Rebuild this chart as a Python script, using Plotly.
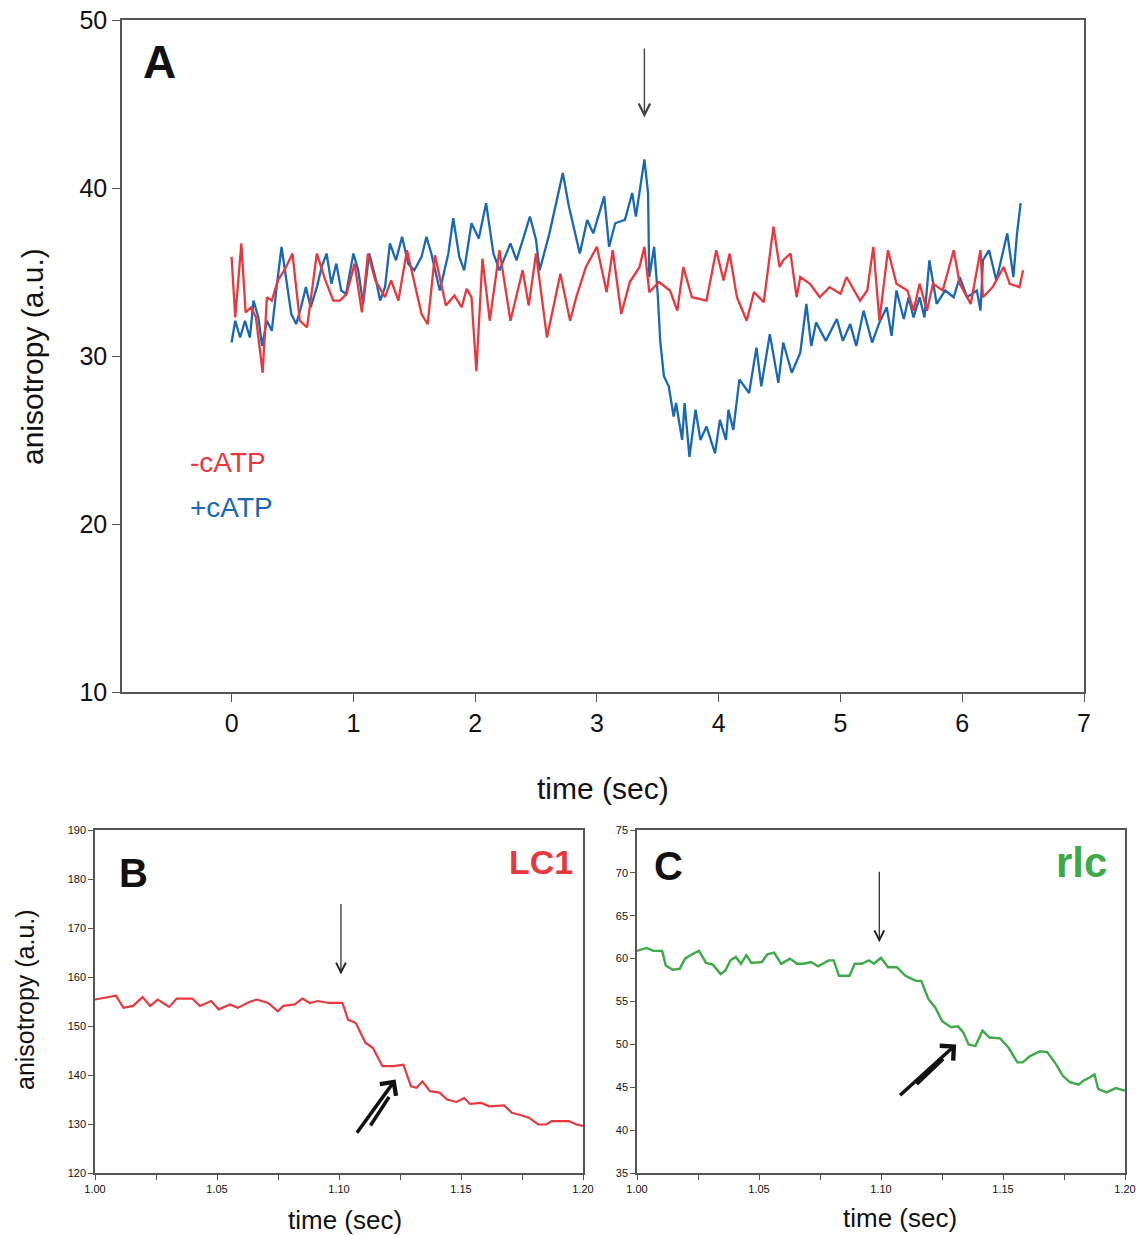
import plotly.graph_objects as go

# ---------------- Panel A data ----------------
t_minus = [0, 0.03, 0.08, 0.115, 0.16, 0.2, 0.255, 0.29, 0.33, 0.38, 0.44, 0.5, 0.56, 0.62, 0.70,
           0.77, 0.835, 0.89, 0.945, 1.01, 1.07, 1.12, 1.18, 1.26, 1.31, 1.37, 1.44, 1.49, 1.56,
           1.61, 1.67, 1.76, 1.83, 1.89, 1.93, 1.97, 2.01, 2.06, 2.12, 2.2, 2.29, 2.39, 2.44,
           2.5, 2.59, 2.7, 2.78, 2.83, 2.91, 3.0, 3.08, 3.13, 3.2, 3.27, 3.35, 3.39, 3.43, 3.51,
           3.6, 3.66, 3.71, 3.78, 3.9, 3.98, 4.04, 4.09, 4.15, 4.23, 4.29, 4.37, 4.45, 4.5, 4.53,
           4.59, 4.64, 4.67, 4.75, 4.83, 4.91, 5.0, 5.05, 5.16, 5.22, 5.27, 5.32, 5.39, 5.46,
           5.55, 5.6, 5.65, 5.71, 5.76, 5.84, 5.93, 5.98, 6.07, 6.15, 6.17, 6.25, 6.34, 6.39,
           6.47, 6.5]
v_minus = [35.9, 32.3, 36.7, 32.6, 32.9, 32.3, 29.0, 33.5, 33.3, 34.5, 35.2, 36.1, 32.1, 31.7, 36.1,
           34.5, 33.3, 33.3, 33.7, 35.5, 32.6, 36.1, 34.5, 33.5, 34.5, 33.3, 36.3, 34.7, 32.5,
           31.9, 36.0, 33.0, 33.6, 32.9, 34.0, 33.5, 29.1, 35.8, 32.1, 36.3, 32.1, 35.1, 33.0,
           36.1, 31.1, 34.9, 32.1, 33.5, 35.3, 36.5, 33.8, 36.3, 32.5, 34.4, 35.3, 36.5, 33.8, 34.4,
           33.9, 32.7, 35.3, 33.5, 33.3, 36.3, 34.5, 36.1, 33.5, 32.1, 33.8, 33.2, 37.7, 35.3, 35.7,
           36.1, 33.5, 34.7, 34.3, 33.5, 34.1, 33.7, 34.7, 33.3, 33.9, 36.5, 32.1, 36.3, 34.3,
           33.9, 32.7, 34.3, 32.7, 34.3, 33.9, 36.3, 34.3, 33.1, 36.3, 33.5, 34.1, 35.3, 34.3,
           34.1, 35.1]

t_plus = [0, 0.03, 0.07, 0.11, 0.15, 0.18, 0.22, 0.25, 0.29, 0.33, 0.37, 0.41, 0.45, 0.49, 0.53,
          0.57, 0.61, 0.65, 0.70, 0.74, 0.78, 0.82, 0.86, 0.9, 0.94, 1.0, 1.04, 1.08, 1.13, 1.18,
          1.22, 1.26, 1.30, 1.35, 1.40, 1.45, 1.5, 1.56, 1.6, 1.64, 1.71, 1.78, 1.82, 1.87, 1.91,
          1.97, 2.03, 2.09, 2.15, 2.2, 2.29, 2.34, 2.45, 2.5, 2.53, 2.61, 2.72, 2.77, 2.86, 2.92,
          2.97, 3.06, 3.1, 3.15, 3.23, 3.29, 3.32, 3.39, 3.42, 3.43, 3.47, 3.5, 3.52, 3.55, 3.59,
          3.63, 3.65, 3.7, 3.72, 3.76, 3.81, 3.85, 3.9, 3.97, 4.01, 4.06, 4.08, 4.12, 4.17, 4.25,
          4.31, 4.35, 4.42, 4.49, 4.53, 4.6, 4.67, 4.72, 4.76, 4.8, 4.88, 4.97, 5.02, 5.08, 5.13,
          5.19, 5.26, 5.32, 5.38, 5.42, 5.46, 5.52, 5.56, 5.6, 5.65, 5.69, 5.73, 5.79, 5.86, 5.93,
          5.98, 6.04, 6.12, 6.15, 6.17, 6.22, 6.28, 6.37, 6.42, 6.45, 6.48]
v_plus = [30.8, 32.1, 31.1, 32.1, 31.1, 33.3, 32.3, 30.6, 32.1, 31.5, 34.1, 36.5, 34.5, 32.5, 31.9,
          32.9, 34.1, 32.9, 34.1, 35.3, 36.1, 34.3, 35.5, 33.9, 33.7, 36.1, 35.1, 33.1, 36.1, 34.7,
          33.3, 34.1, 36.7, 35.7, 37.1, 35.5, 35.1, 35.9, 37.1, 36.1, 33.9, 36.1, 38.2, 35.9, 35.1,
          37.9, 37.0, 39.1, 36.1, 35.1, 36.7, 35.7, 38.3, 36.9, 35.1, 37.3, 40.9, 38.9, 36.1, 38.1,
          37.3, 39.5, 36.5, 37.9, 38.1, 39.7, 38.3, 41.7, 39.7, 34.7, 36.5, 33.6, 30.9, 28.8, 28.2,
          26.4, 27.2, 25.0, 27.2, 24.0, 26.8, 25.0, 25.8, 24.2, 26.2, 25.0, 26.8, 25.6, 28.6, 27.8,
          30.5, 28.2, 31.3, 28.4, 30.8, 29.0, 30.2, 33.1, 30.6, 32.0, 30.9, 32.2, 30.9, 31.9, 30.6,
          32.7, 30.8, 32.0, 32.9, 31.2, 33.9, 32.2, 33.5, 32.3, 33.5, 32.3, 35.7, 33.1, 33.9, 33.5,
          34.7, 33.5, 33.9, 32.7, 35.7, 36.3, 34.5, 37.3, 34.7, 37.3, 39.1]

# ---------------- Panel B data (LC1) ----------------
t_lc1 = [1.0, 1.0086, 1.0117, 1.0156, 1.0195, 1.0226, 1.0257, 1.0304, 1.0335, 1.0398, 1.043,
         1.0476, 1.0507, 1.0554, 1.0585, 1.0632, 1.0663, 1.071, 1.0749, 1.0772, 1.0819, 1.085,
         1.0881, 1.0913, 1.0959, 1.1014, 1.1037, 1.1069, 1.1108, 1.1139, 1.1178, 1.1225, 1.1264,
         1.1295, 1.1318, 1.1342, 1.1373, 1.1412, 1.1443, 1.1482, 1.1513, 1.1537, 1.1584, 1.1615,
         1.1677, 1.1708, 1.174, 1.1778, 1.1817, 1.1849, 1.1872, 1.1942, 1.1973, 1.2]
v_lc1 = [155.4, 156.2, 153.7, 154.1, 155.9, 154.1, 155.4, 153.9, 155.6, 155.6, 154.1,
         155.1, 153.4, 154.4, 153.7, 154.9, 155.4, 154.7, 153.0, 154.1, 154.4, 155.6,
         154.7, 155.1, 154.7, 154.7, 151.3, 150.6, 146.6, 145.5, 141.8, 141.8, 142.1,
         137.7, 137.4, 138.7, 136.7, 136.4, 135.0, 134.5, 135.3, 134.1, 134.3, 133.6,
         133.8, 132.3, 131.9, 131.3, 129.9, 129.9, 130.6, 130.6, 129.9, 129.6]

# ---------------- Panel C data (rlc) ----------------
t_rlc = [1.0, 1.0039, 1.0067, 1.0103, 1.0118, 1.0146, 1.0175, 1.0197, 1.0225, 1.0254, 1.0283,
         1.0311, 1.0343, 1.0362, 1.0383, 1.0405, 1.0426, 1.0448, 1.0469, 1.0512, 1.0534, 1.0562,
         1.0591, 1.0627, 1.0656, 1.0684, 1.0713, 1.0742, 1.0785, 1.0806, 1.0828, 1.0871, 1.0892,
         1.0921, 1.095, 1.0971, 1.1, 1.1029, 1.1065, 1.11, 1.1143, 1.1165, 1.1194, 1.1222, 1.1251,
         1.1287, 1.1316, 1.1337, 1.1359, 1.1387, 1.1416, 1.1445, 1.1488, 1.1523, 1.1559, 1.1581,
         1.1609, 1.1652, 1.1681, 1.1717, 1.1746, 1.1774, 1.181, 1.1832, 1.1853, 1.1875, 1.189,
         1.1925, 1.1962, 1.2]
v_rlc = [60.9, 61.25, 60.9, 60.9, 59.2, 58.7, 58.8, 60.0, 60.5, 60.9, 59.5,
         59.3, 58.2, 58.6, 59.8, 60.2, 59.4, 60.4, 59.5, 59.6, 60.5, 60.7,
         59.4, 60.0, 59.4, 59.4, 59.6, 59.1, 59.8, 59.8, 58.0, 58.0, 59.4,
         59.4, 59.8, 59.4, 60.1, 59.0, 59.0, 58.0, 57.4, 57.4, 55.3, 54.3, 52.7,
         52.0, 52.1, 51.4, 50.0, 49.8, 51.6, 50.8, 50.7, 49.6, 47.9, 47.9,
         48.6, 49.2, 49.1, 47.7, 46.3, 45.6, 45.3, 45.8, 46.1, 46.5, 44.8,
         44.4, 44.9, 44.6]

xA_ticks = [0, 1, 2, 3, 4, 5, 6, 7]
yA_ticks = [10, 20, 30, 40, 50]
xBC_ticks = [1.00, 1.05, 1.10, 1.15, 1.20]
yB_ticks = [120, 130, 140, 150, 160, 170, 180, 190]
yC_ticks = [35, 40, 45, 50, 55, 60, 65, 70, 75]

RED = "#E8383D"
BLUE = "#1A68B3"
GREEN = "#3BAA47"
AX = "#555555"
FONT = "Liberation Sans, Arial, sans-serif"

W, H = 1140, 1235
def px(x): return x / W
def py(y): return 1 - y / H

fig = go.Figure()
fig.add_trace(go.Scatter(x=t_plus, y=v_plus, mode="lines", line=dict(color=BLUE, width=2.3),
                         xaxis="x", yaxis="y", showlegend=False))
fig.add_trace(go.Scatter(x=t_minus, y=v_minus, mode="lines", line=dict(color=RED, width=2.3),
                         xaxis="x", yaxis="y", showlegend=False))
fig.add_trace(go.Scatter(x=t_lc1, y=v_lc1, mode="lines", line=dict(color=RED, width=2.2),
                         xaxis="x2", yaxis="y2", showlegend=False))
fig.add_trace(go.Scatter(x=t_rlc, y=v_rlc, mode="lines", line=dict(color=GREEN, width=2.4),
                         xaxis="x3", yaxis="y3", showlegend=False))

base = dict(showgrid=False, zeroline=False, showline=True, linecolor=AX, linewidth=1.5,
            ticks="outside", tickcolor=AX, automargin=False, mirror=True)

def big(): return dict(family=FONT, size=25, color="#111")
def small(): return dict(family=FONT, size=11, color="#111")

fig.update_layout(
    width=W, height=H, margin=dict(l=0, r=0, t=0, b=0, autoexpand=False),
    paper_bgcolor="white", plot_bgcolor="white",
    xaxis=dict(domain=[px(122), px(1084)], range=[-0.9, 7], tickvals=xA_ticks,
               ticklen=8, tickfont=big(), anchor="y", **base),
    yaxis=dict(domain=[py(692), py(20)], range=[10, 50], tickvals=yA_ticks,
               ticklen=8, tickfont=big(), anchor="x", **base),
    xaxis2=dict(domain=[px(95), px(583)], range=[1.0, 1.2], tickvals=xBC_ticks,
                tickformat=".2f", ticklen=5, anchor="y2", tickfont=small(),
                minor=dict(dtick=0.025, ticks="outside", ticklen=5, tickcolor=AX), **base),
    yaxis2=dict(domain=[py(1173), py(830)], range=[120, 190], tickvals=yB_ticks,
                ticklen=5, anchor="x2", tickfont=small(), **base),
    xaxis3=dict(domain=[px(637), px(1125)], range=[1.0, 1.2], tickvals=xBC_ticks,
                tickformat=".2f", ticklen=5, anchor="y3", tickfont=small(),
                minor=dict(dtick=0.025, ticks="outside", ticklen=5, tickcolor=AX), **base),
    yaxis3=dict(domain=[py(1173), py(830)], range=[35, 75], tickvals=yC_ticks,
                ticklen=5, anchor="x3", tickfont=small(), **base),
)

ann = []
def txt(x, y, s, size, color="#111", bold=False, angle=0, xanchor="center"):
    ann.append(dict(x=px(x), y=py(y), xref="paper", yref="paper", text=(f"<b>{s}</b>" if bold else s),
                    showarrow=False, textangle=angle, xanchor=xanchor, yanchor="middle",
                    font=dict(family=FONT, size=size, color=color)))

txt(159, 62, "A", 46, bold=True)
txt(133, 873, "B", 40, bold=True)
txt(668, 866, "C", 40, bold=True)
txt(575, 862, "LC1", 34, color=RED, bold=True, xanchor="right")
txt(1109, 862, "rlc", 42, color=GREEN, bold=True, xanchor="right")
txt(188, 463, "-cATP", 28, color=RED, xanchor="left")
txt(188, 508, "+cATP", 28, color=BLUE, xanchor="left")
txt(603, 788, "time (sec)", 30)
txt(32, 357, "anisotropy (a.u.)", 30, angle=-90)
txt(345, 1220, "time (sec)", 26)
txt(900, 1218, "time (sec)", 26)
txt(25, 1000, "anisotropy (a.u.)", 25, angle=-90)

def arrow(xr, yr, x0, y0, x1, y1, width=1.2, head=2, size=1.2, color="#222"):
    ann.append(dict(x=x1, y=y1, ax=x0, ay=y0, xref=xr, yref=yr, axref=xr, ayref=yr,
                    showarrow=True, arrowhead=head, arrowsize=size, arrowwidth=width,
                    arrowcolor=color, text=""))

# thin arrows
arrow("x", "y", 3.39, 48.4, 3.39, 44.2, width=1.4, head=5, size=1.6, color="#444")
arrow("x2", "y2", 1.1008, 175.2, 1.1008, 160.5, width=1.2, head=5, size=1.6, color="#222")
arrow("x3", "y3", 1.0993, 70.3, 1.0993, 61.9, width=1.2, head=5, size=1.6, color="#222")
# thick double arrows
arrow("x2", "y2", 1.1069, 127.9, 1.1232, 139.1, width=3.5, head=4, size=1.1, color="#111")
arrow("x2", "y2", 1.1125, 129.4, 1.1205, 135.5, width=3.5, head=0, size=1, color="#111")
arrow("x3", "y3", 1.1072, 43.9, 1.1308, 50.0, width=3.5, head=4, size=1.1, color="#111")
arrow("x3", "y3", 1.1140, 45.2, 1.1255, 48.3, width=3.5, head=0, size=1, color="#111")

fig.update_layout(annotations=ann)
fig.write_html("out.html")
